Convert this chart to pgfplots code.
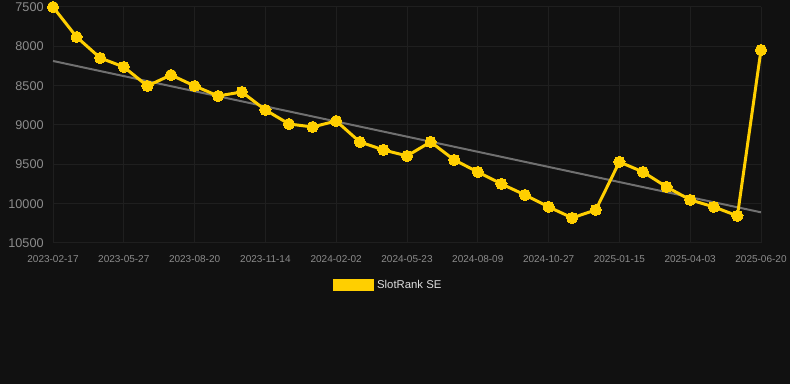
\documentclass[border=0pt]{standalone}
\usepackage{pgfplots}
\pgfplotsset{compat=1.18}
\usepackage{fontspec}
\setmainfont{Liberation Sans}
\definecolor{bg}{HTML}{111111}
\definecolor{gridc}{HTML}{1F1F1F}
\definecolor{ticklab}{HTML}{8C8C8C}
\definecolor{lineY}{HTML}{FFCF00}
\definecolor{trend}{HTML}{707070}
\definecolor{legtext}{HTML}{DDDDDD}
\begin{document}
\begin{tikzpicture}
\fill[bg] (0,0) rectangle (592.5pt,288pt);
\useasboundingbox (0,0) rectangle (592.5pt,288pt);
\begin{axis}[
  at={(39.75pt,105.75pt)}, anchor=south west,
  scale only axis, width=531pt, height=177pt,
  xmin=0, xmax=30, ymin=7500, ymax=10500,
  y dir=reverse,
  scaled y ticks=false,
  axis line style={draw=none},
  xtick={0,3,...,30},
  xticklabels={2023-02-17,2023-05-27,2023-08-20,2023-11-14,2024-02-02,2024-05-23,2024-08-09,2024-10-27,2025-01-15,2025-04-03,2025-06-20},
  ytick={7500,8000,...,10500},
  yticklabels={7500,8000,8500,9000,9500,10000,10500},
  yticklabel style={font=\fontsize{9.5pt}{11pt}\selectfont, text=ticklab},
  xticklabel style={font=\fontsize{7.5pt}{9pt}\selectfont, text=ticklab},
  grid=major,
  major grid style={gridc, line width=0.75pt},
  tick style={draw=none},
  yticklabel shift=3.5pt,
  xticklabel shift=5.5pt,
  clip=false,
  legend style={at={(0.474,-0.178)}, anchor=center, draw=none, fill=none,
    text=legtext, font=\fontsize{8.5pt}{10pt}\selectfont},
  legend image code/.code={\fill[lineY, draw=none, sharp corners, line join=miter] (0pt,-4.6pt) rectangle (31pt,4.6pt);},
]
\addplot[trend, line width=1.5pt, forget plot] coordinates {(0,8186) (30,10110)};
\addplot[lineY, line width=2.25pt, line join=round, mark=*, mark size=4.2pt, mark options={fill=lineY, draw=none, line width=0pt}] coordinates {
(0,7500) (1,7881) (2,8148) (3,8262) (4,8504) (5,8364) (6,8504) (7,8631) (8,8580) (9,8809)
(10,8987) (11,9025) (12,8949) (13,9215) (14,9317) (15,9393) (16,9215) (17,9444) (18,9597) (19,9749)
(20,9889) (21,10041) (22,10181) (23,10079) (24,9469) (25,9597) (26,9787) (27,9952) (28,10041) (29,10155)
(30,8046)};
\addlegendentry{SlotRank SE}
\end{axis}
\end{tikzpicture}
\end{document}
